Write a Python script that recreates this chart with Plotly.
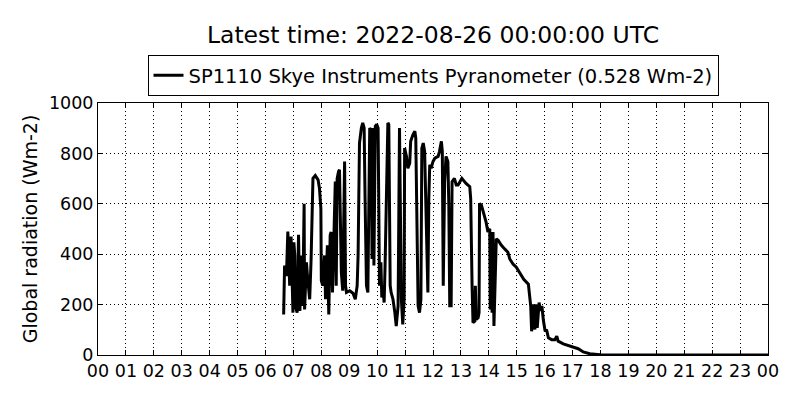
import pandas as pd
import plotly.graph_objects as go

# readings of 2022-08-25 (UTC)
day = "2022-08-25"
times = [
    "06:39", "06:41", "06:45", "06:48", "06:52", "06:55", "06:59", "07:01", "07:03", "07:04",
    "07:08", "07:11", "07:14", "07:17", "07:20", "07:23", "07:24", "07:28", "07:31", "07:35",
    "07:38", "07:42", "07:47", "07:53", "07:56", "07:59", "08:00", "08:03", "08:07", "08:09",
    "08:13", "08:16", "08:19", "08:21", "08:24", "08:27", "08:30", "08:32", "08:34", "08:37",
    "08:39", "08:43", "08:46", "08:50", "08:52", "08:54", "09:01", "09:08", "09:10", "09:13",
    "09:17", "09:19", "09:22", "09:26", "09:29", "09:32", "09:34", "09:37", "09:40", "09:44",
    "09:47", "09:49", "09:51", "09:53", "09:56", "09:59", "10:02", "10:03", "10:05", "10:08",
    "10:10", "10:12", "10:15", "10:17", "10:20", "10:23", "10:25", "10:28", "10:30", "10:34",
    "10:38", "10:41", "10:45", "10:47",
    "10:48", "10:52", "10:55", "10:58", "10:59", "11:03", "11:06", "11:10", "11:12", "11:17",
    "11:21", "11:23", "11:25", "11:28", "11:31", "11:34", "11:36", "11:39", "11:42", "11:46",
    "11:49", "11:51", "11:53", "11:56", "12:00", "12:04", "12:11", "12:14", "12:18", "12:20",
    "12:22", "12:25", "12:28", "12:32", "12:34", "12:36", "12:39", "12:41", "12:46", "12:50",
    "12:54", "13:02", "13:11", "13:19", "13:21", "13:24", "13:26", "13:30", "13:31", "13:33",
    "13:37", "13:39", "13:40", "13:44", "13:50", "13:54", "13:58", "14:02", "14:03", "14:05",
    "14:07", "14:09", "14:11", "14:14", "14:16", "14:20", "14:27", "14:34", "14:41", "14:45",
    "14:52", "14:59", "15:06",
    "15:15", "15:25", "15:30", "15:32", "15:35", "15:39", "15:41", "15:44", "15:48", "15:51",
    "15:54", "15:57", "16:01", "16:04", "16:08", "16:15", "16:22", "16:26", "16:29", "16:40",
    "16:58", "17:12", "17:23", "17:37", "17:59", "18:30", "24:00",
]
radiation = [
    161, 355, 314, 490, 275, 470, 168, 447, 395, 195,
    168, 477, 175, 395, 195, 600, 181, 368, 295, 221,
    381, 701, 712, 695, 661, 581, 295, 275, 395, 221,
    435, 161, 475, 488, 248, 461, 688, 275, 701, 728,
    735, 328, 255, 768, 275, 248, 255, 245, 235, 221,
    275, 395, 841, 901, 921, 901, 621, 275, 248, 901,
    888, 381, 901, 355, 908, 915, 901, 675, 275, 368,
    228, 275, 208, 355, 661, 921, 915, 275, 248, 221,
    168, 115, 195, 901,
    901, 221, 121, 221, 821, 788, 741, 761, 848, 875,
    888, 861, 488, 195, 168, 221, 821, 841, 808, 488,
    248, 621, 755, 741, 768, 781, 788, 808, 848, 808,
    275, 688, 788, 768, 595, 195, 195, 688, 701, 675,
    675, 701, 681, 668, 621, 275, 128, 135, 275, 141,
    148, 168, 601, 595, 555, 528, 488, 501, 181, 488,
    168, 488, 115, 355, 461, 455, 435, 421, 408, 381,
    361, 348, 328,
    300, 281, 194, 94, 201, 101, 201, 108, 208, 175,
    195, 141, 94, 101, 68, 61, 61, 75, 55, 44,
    35, 25, 12, 5, 1, 0, 0,
]
series_name = "SP1110 Skye Instruments Pyranometer (0.528 Wm-2)"
title_text = "Latest time: 2022-08-26 00:00:00 UTC"

base = pd.Timestamp(day)
x = [base + pd.Timedelta(minutes=int(t[:2]) * 60 + int(t[3:])) for t in times]

fig = go.Figure()
fig.add_trace(go.Scatter(x=x, y=radiation, mode="lines", name=series_name,
                         line=dict(color="black", width=3)))

axis_style = dict(showline=True, linecolor="black", linewidth=1, mirror="ticks",
                  ticks="inside", ticklen=5, tickcolor="black",
                  showgrid=True, gridcolor="black", gridwidth=0.6, griddash="1px,3px",
                  zeroline=False, tickfont=dict(size=17.5, color="black"))

# page body has an 8px margin, so the margins are pulled in by 8px
fig.update_layout(
    width=800, height=400,
    margin=dict(l=90, r=40, t=95, b=53),
    paper_bgcolor="white", plot_bgcolor="white",
    font=dict(family="DejaVu Sans", color="black", size=19),
    title=dict(text=title_text, font=dict(size=23.5), x=0.5, xref="paper",
               xanchor="center", y=0.933, yanchor="middle"),
    showlegend=True,
    legend=dict(x=0.5, xanchor="center", y=1.19, yanchor="top",
                bordercolor="black", borderwidth=1, bgcolor="white",
                font=dict(size=19.5)),
    xaxis=dict(axis_style, type="date", range=[base, base + pd.Timedelta(days=1)],
               dtick=3600000, tickformat="%H"),
    yaxis=dict(axis_style, range=[0, 1000], dtick=200,
               title=dict(text="Global radiation (Wm-2)", standoff=6, font=dict(size=19))),
)

fig.write_html("out.html")
